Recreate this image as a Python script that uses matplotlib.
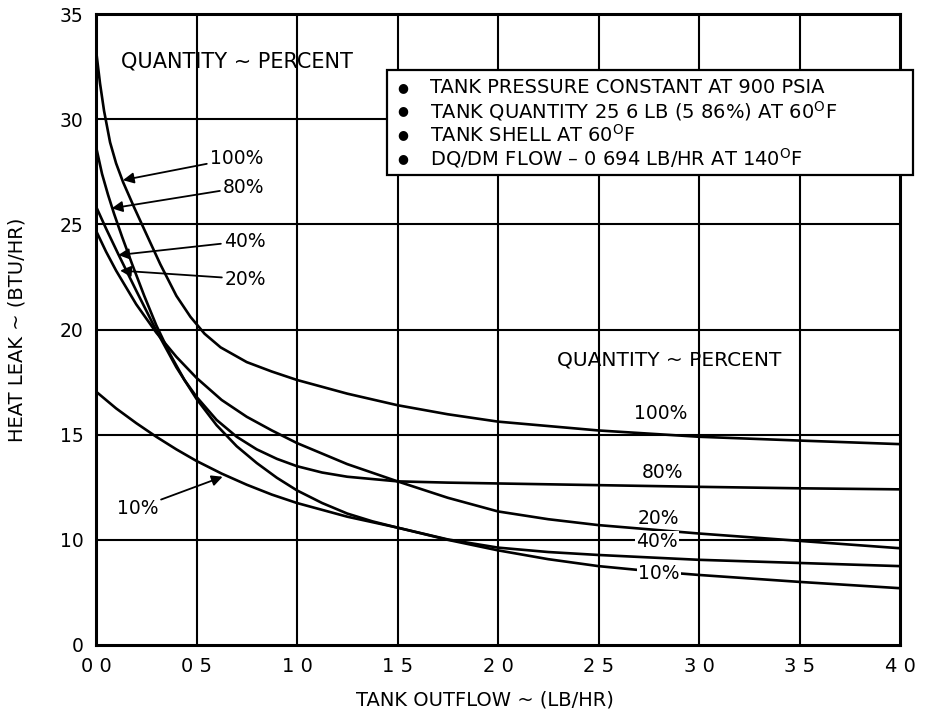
import matplotlib
matplotlib.use('Agg')
import matplotlib.pyplot as plt
from matplotlib.patches import Rectangle

# ---------------- data ----------------
flow_100 = [0.0, 0.02, 0.04, 0.07, 0.1, 0.135, 0.19, 0.25, 0.32, 0.4, 0.47, 0.54, 0.62, 0.75,
            0.875, 1.0, 1.25, 1.5, 1.75, 2.0, 2.5, 3.0, 3.5, 4.0]
heat_100 = [33.3, 31.7, 30.4, 28.9, 27.9, 27.0, 25.8, 24.55, 23.1, 21.6, 20.6, 19.8, 19.15, 18.45,
            18.0, 17.6, 16.95, 16.4, 15.97, 15.62, 15.2, 14.9, 14.72, 14.55]

flow_80 = [0.0, 0.03, 0.06, 0.09, 0.13, 0.18, 0.24, 0.3, 0.37, 0.44, 0.5, 0.6, 0.7, 0.8, 0.9,
           1.0, 1.125, 1.25, 1.5, 1.75, 2.0, 2.5, 3.0, 3.5, 4.0]
heat_80 = [28.7, 27.4, 26.4, 25.5, 24.4, 23.1, 21.6, 20.2, 18.8, 17.6, 16.8, 15.7, 14.9, 14.3, 13.85,
           13.5, 13.2, 13.0, 12.78, 12.72, 12.68, 12.6, 12.52, 12.45, 12.4]

flow_40 = [0.0, 0.05, 0.11, 0.2, 0.3, 0.4, 0.5, 0.6, 0.7, 0.8, 0.9, 1.0, 1.125, 1.25, 1.375,
           1.5, 1.75, 2.0, 2.25, 2.5, 3.0, 3.5, 4.0]
heat_40 = [25.85, 24.8, 23.6, 21.85, 19.95, 18.2, 16.7, 15.45, 14.45, 13.65, 12.95, 12.35, 11.75,
           11.25, 10.88, 10.58, 10.02, 9.63, 9.42, 9.28, 9.05, 8.9, 8.75]

flow_20 = [0.0, 0.05, 0.1, 0.2, 0.3, 0.4, 0.5, 0.625, 0.75, 0.875, 1.0, 1.25, 1.5, 1.75, 2.0,
           2.25, 2.5, 3.0, 3.5, 4.0]
heat_20 = [24.7, 23.7, 22.8, 21.2, 19.85, 18.7, 17.7, 16.65, 15.85, 15.2, 14.6, 13.6, 12.78, 12.0,
           11.35, 10.98, 10.7, 10.3, 9.95, 9.6]

flow_10 = [0.0, 0.1, 0.2, 0.3, 0.4, 0.5, 0.625, 0.75, 0.875, 1.0, 1.25, 1.5, 1.75, 2.0, 2.25,
           2.5, 2.75, 3.0, 3.5, 4.0]
heat_10 = [17.05, 16.25, 15.55, 14.9, 14.3, 13.75, 13.15, 12.62, 12.15, 11.75, 11.1, 10.58, 10.0,
           9.5, 9.08, 8.75, 8.52, 8.33, 8.0, 7.7]

x_ticks = [0.0, 0.5, 1.0, 1.5, 2.0, 2.5, 3.0, 3.5, 4.0]
x_tick_labels = ['0 0', '0 5', '1 0', '1 5', '2 0', '2 5', '3 0', '3 5', '4 0']
y_ticks = [5, 10, 15, 20, 25, 30, 35]          # broken axis: bottom line is labelled 0
y_tick_labels = ['0', '10', '15', '20', '25', '30', '35']

notes = ['TANK PRESSURE CONSTANT AT 900 PSIA',
         'TANK QUANTITY 25 6 LB (5 86%) AT 60$^{\\mathregular{O}}$F',
         'TANK SHELL AT 60$^{\\mathregular{O}}$F',
         'DQ/DM FLOW \u2013 0 694 LB/HR AT 140$^{\\mathregular{O}}$F']

# ---------------- figure ----------------
plt.rcParams['font.family'] = ['DejaVu Sans']
fig = plt.figure(figsize=(9.49, 7.23), dpi=100)
ax = fig.add_axes([96/949, 1-645/723, 804/949, 631/723])

ax.set_xlim(0, 4.0)
ax.set_ylim(5, 35)

for xv in x_ticks[1:-1]:
    ax.axvline(xv, color='black', lw=1.5, zorder=1)
for yv in y_ticks[1:-1]:
    ax.axhline(yv, color='black', lw=1.5, zorder=1)

for fx, hy in [(flow_100, heat_100), (flow_80, heat_80), (flow_40, heat_40),
               (flow_20, heat_20), (flow_10, heat_10)]:
    ax.plot(fx, hy, color='black', lw=1.9, zorder=3, solid_capstyle='butt',
            solid_joinstyle='round')

ax.set_xticks(x_ticks)
ax.set_xticklabels(x_tick_labels, fontsize=14)
ax.set_yticks(y_ticks)
ax.set_yticklabels(y_tick_labels, fontsize=13.5)
ax.tick_params(length=0, pad=9)
for s in ax.spines.values():
    s.set_linewidth(2.2)

ax.text(-0.098, 0.499, 'HEAT LEAK ~ (BTU/HR)', transform=ax.transAxes, rotation=90,
        ha='center', va='center', fontsize=14)
ax.text(0.484, -0.087, 'TANK OUTFLOW ~ (LB/HR)', transform=ax.transAxes,
        ha='center', va='center', fontsize=14)

# left group labels with arrows
ax.text(0.70, 32.75, 'QUANTITY ~ PERCENT', ha='center', va='center', fontsize=15)
arrow = dict(arrowstyle='-|>', color='black', lw=1.3, mutation_scale=16, shrinkA=0, shrinkB=0)
ax.annotate('100%', xy=(0.134, 27.1), xytext=(0.565, 28.15), ha='left', va='center',
            fontsize=13.5, arrowprops=arrow, zorder=4)
ax.annotate('80%', xy=(0.078, 25.76), xytext=(0.63, 26.77), ha='left', va='center',
            fontsize=13.5, arrowprops=arrow, zorder=4)
ax.annotate('40%', xy=(0.111, 23.54), xytext=(0.635, 24.2), ha='left', va='center',
            fontsize=13.5, arrowprops=arrow, zorder=4)
ax.annotate('20%', xy=(0.12, 22.8), xytext=(0.64, 22.4), ha='left', va='center',
            fontsize=13.5, arrowprops=arrow, zorder=4)
ax.annotate('10%', xy=(0.63, 13.0), xytext=(0.31, 11.5), ha='right', va='center',
            fontsize=13.5, arrowprops=arrow, zorder=4)

# right group labels
ax.text(2.85, 18.55, 'QUANTITY ~ PERCENT', ha='center', va='center', fontsize=14.5, zorder=4)
ax.text(2.81, 16.0, '100%', ha='center', va='center', fontsize=13.5, zorder=4)
ax.text(2.82, 13.2, '80%', ha='center', va='center', fontsize=13.5, zorder=4)
ax.text(2.80, 11.0, '20%', ha='center', va='center', fontsize=13.5, zorder=4)
ax.text(2.79, 9.9, '40%', ha='center', va='center', fontsize=13.5, zorder=4,
        bbox=dict(facecolor='white', edgecolor='none', pad=1.0))
ax.text(2.80, 8.4, '10%', ha='center', va='center', fontsize=13.5, zorder=4,
        bbox=dict(facecolor='white', edgecolor='none', pad=1.0))

# notes box
box = Rectangle((0.362, 0.745), 0.654, 0.166, transform=ax.transAxes, facecolor='white',
                edgecolor='black', lw=1.6, zorder=5, clip_on=False)
ax.add_patch(box)
for i, line in enumerate(notes):
    yy = 0.884 - i * 0.0375
    ax.text(0.381, yy, '\u25CF', transform=ax.transAxes, ha='center', va='center',
            fontsize=9, zorder=6)
    ax.text(0.416, yy, line, transform=ax.transAxes, ha='left', va='center',
            fontsize=14, zorder=6)

fig.savefig('out.png', dpi=100)
